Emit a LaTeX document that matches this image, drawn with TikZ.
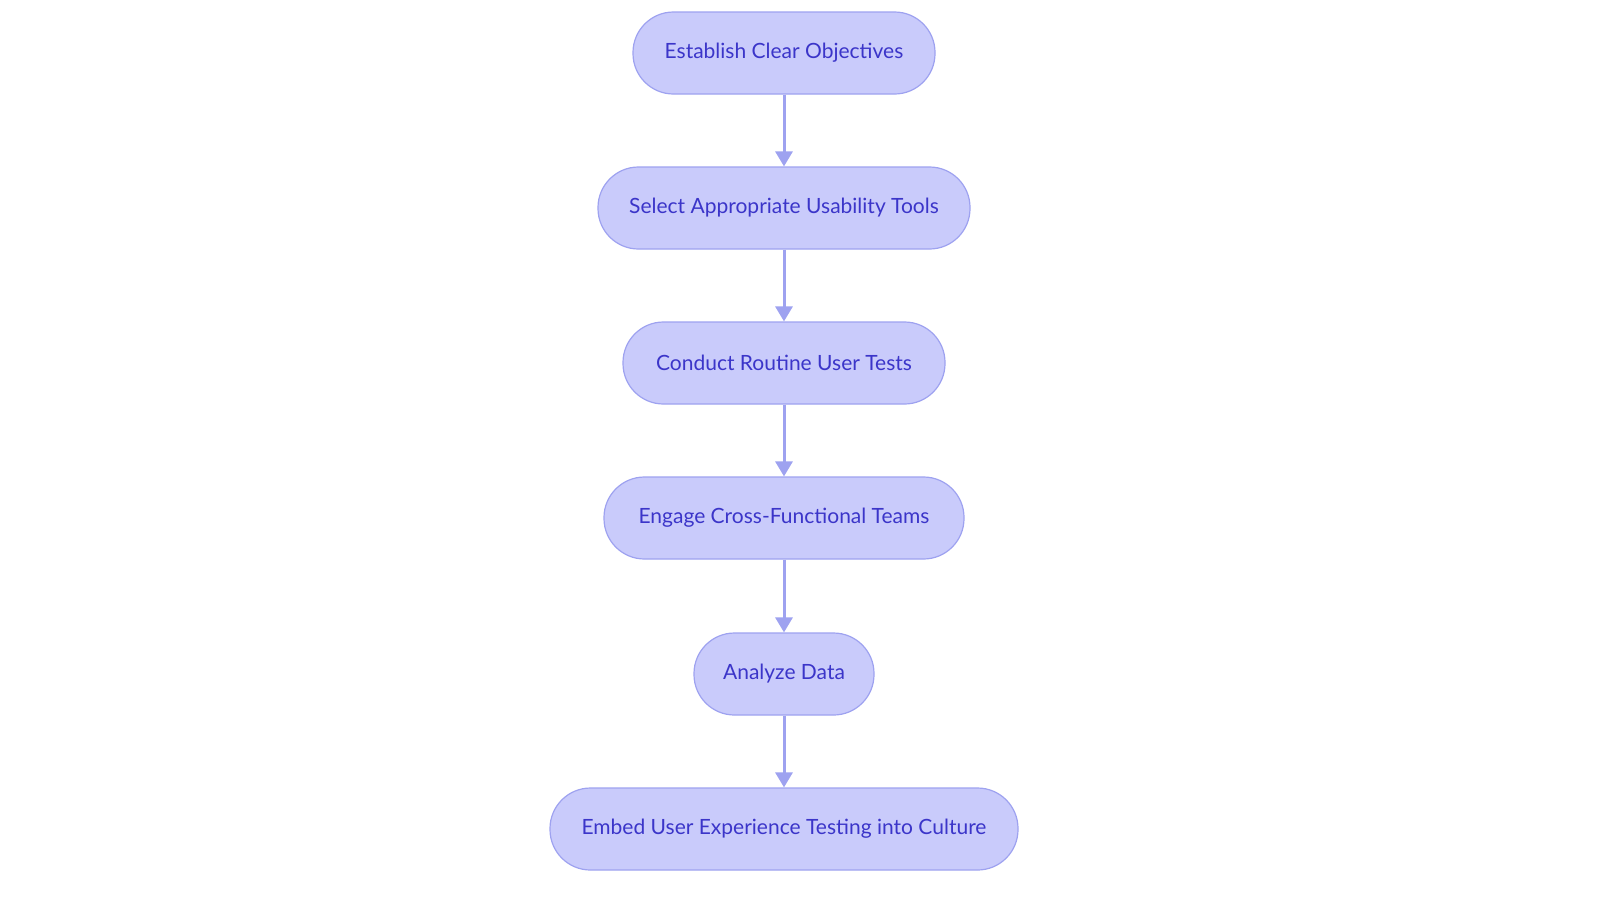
\documentclass[tikz,border=0pt]{standalone}
\usepackage{fontspec}
\setmainfont{Lato}
\usetikzlibrary{arrows.meta}
\definecolor{nfill}{HTML}{C9CBFB}
\definecolor{nline}{HTML}{9EA2F0}
\definecolor{ntext}{HTML}{3B35C9}
\begin{document}
\begin{tikzpicture}[x=1pt,y=-1pt,
  box/.style={draw=nline,line width=1.2pt,fill=nfill,rounded corners=40.5pt,minimum height=82pt,text=ntext,font=\fontsize{21}{25}\selectfont,inner sep=0pt},
  arr/.style={draw=nline,line width=3pt,-{Triangle[length=15pt,width=17pt]}}]
\useasboundingbox[fill=white] (0,0) rectangle (1600,903);
\node[box,minimum width=302pt] (a) at (784,53) {Establish Clear Objectives};
\node[box,minimum width=372pt] (b) at (784,208) {Select Appropriate Usability Tools};
\node[box,minimum width=322pt] (c) at (784,363) {Conduct Routine User Tests};
\node[box,minimum width=360pt] (d) at (784,518) {Engage Cross-Functional Teams};
\node[box,minimum width=180pt] (e) at (784,674) {Analyze Data};
\node[box,minimum width=468pt] (f) at (784,829) {Embed User Experience Testing into Culture};
\draw[arr] (a) -- (b);
\draw[arr] (b) -- (c);
\draw[arr] (c) -- (d);
\draw[arr] (d) -- (e);
\draw[arr] (e) -- (f);
\end{tikzpicture}
\end{document}
